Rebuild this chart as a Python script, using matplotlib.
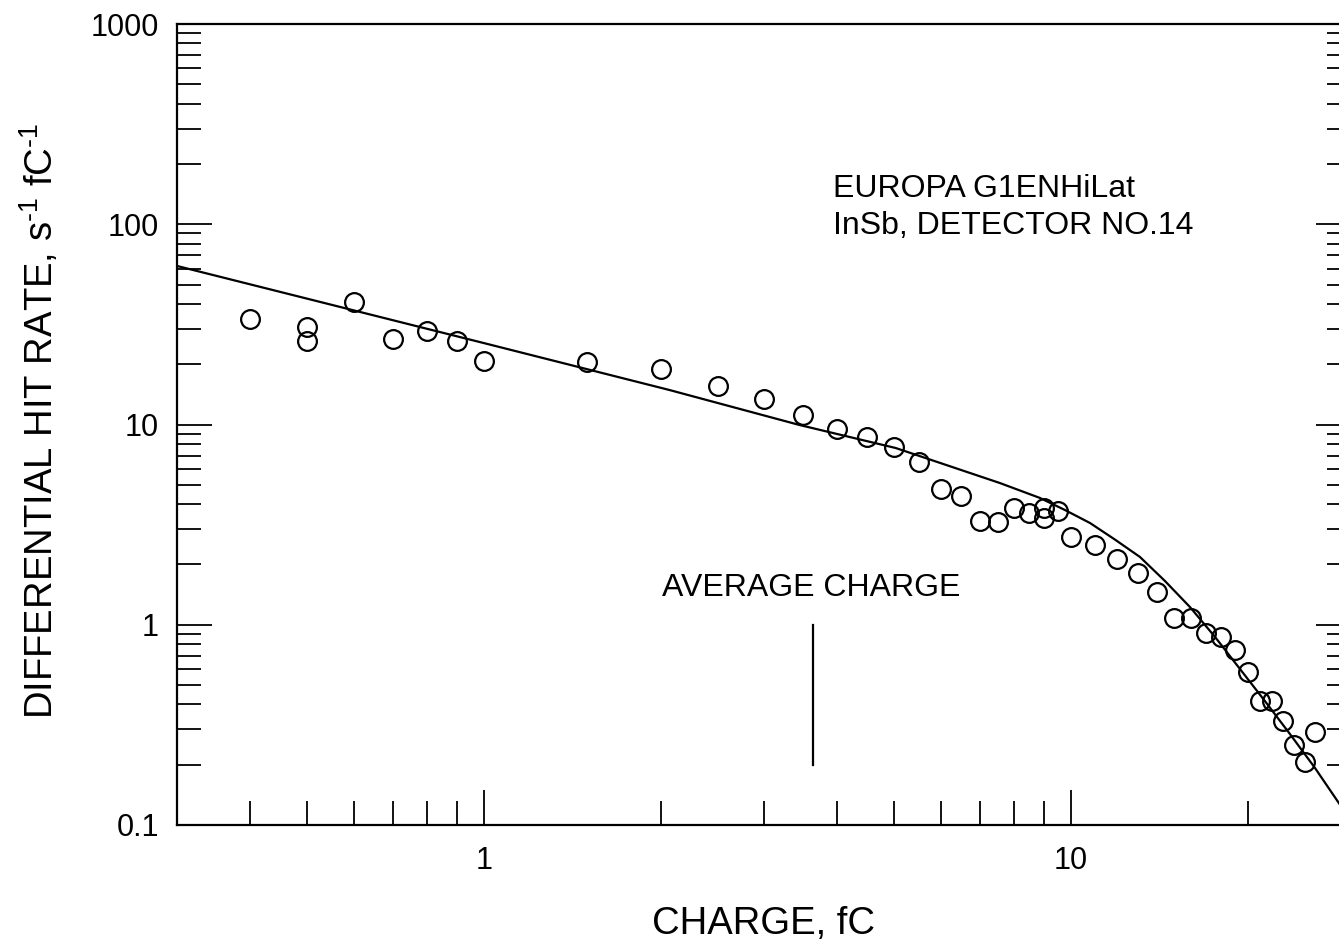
import matplotlib
matplotlib.use("Agg")
import matplotlib.pyplot as plt
from matplotlib.ticker import LogLocator, NullFormatter

plt.rcParams["font.family"] = ["Liberation Sans", "DejaVu Sans"]
plt.rcParams["mathtext.fontset"] = "custom"
plt.rcParams["mathtext.rm"] = "Liberation Sans"

# measured differential hit rate, s^-1 fC^-1, against deposited charge, fC
charge = [0.4, 0.5, 0.5, 0.6, 0.7, 0.8, 0.9, 1.0, 1.5, 2.0, 2.5, 3.0,
          3.5, 4.0, 4.5, 5.0, 5.5, 6.0, 6.5, 7.0, 7.5, 8.0, 8.5, 9.0,
          9.0, 9.5, 10.0, 11.0, 12.0, 13.0, 14.0, 15.0, 16.0, 17.0, 18.0,
          19.0, 20.0, 21.0, 22.0, 23.0, 24.0, 25.0, 26.0]
rate = [33.6, 30.8, 26.1, 40.9, 26.6, 29.4, 26.2, 20.8, 20.6, 18.9, 15.6, 13.4,
        11.2, 9.46, 8.63, 7.75, 6.52, 4.76, 4.41, 3.31, 3.25, 3.82, 3.60, 3.84,
        3.40, 3.70, 2.73, 2.50, 2.12, 1.82, 1.45, 1.08, 1.08, 0.906, 0.87,
        0.75, 0.58, 0.416, 0.416, 0.332, 0.251, 0.206, 0.29]

# model curve
fit_charge = [0.3, 1.0, 2.07, 3.45, 5.03, 7.57, 8.85, 9.77, 10.78, 11.88,
              13.11, 14.46, 15.95, 17.60, 19.41, 21.40, 23.61, 26.05, 28.6,
              30.0]
fit_rate = [61.9, 25.5, 14.87, 9.94, 7.63, 5.10, 4.30, 3.74, 3.22, 2.665,
            2.18, 1.654, 1.226, 0.869, 0.601, 0.416, 0.2847, 0.1926, 0.1288,
            0.1054]

avg_charge = 3.64
avg_bar = [0.2, 1.0]

fig = plt.figure(figsize=(13.39, 9.47), dpi=100)
ax = fig.add_axes([177 / 1339, 1 - 825 / 947, 1174 / 1339, 801 / 947])
ax.set_xscale("log")
ax.set_yscale("log")
ax.set_xlim(0.3, 30)
ax.set_ylim(0.1, 1000)

ax.plot(fit_charge, fit_rate, color="black", lw=1.6)
ax.plot(charge, rate, "o", mfc="none", mec="black", ms=13.5, mew=1.6)
ax.plot([avg_charge, avg_charge], avg_bar, color="black", lw=1.6)

ax.set_xticks([1, 10], ["1", "10"])
ax.set_yticks([0.1, 1, 10, 100, 1000], ["0.1", "1", "10", "100", "1000"])
ax.xaxis.set_minor_locator(LogLocator(base=10, subs=range(2, 10)))
ax.yaxis.set_minor_locator(LogLocator(base=10, subs=range(2, 10)))
ax.xaxis.set_minor_formatter(NullFormatter())
ax.yaxis.set_minor_formatter(NullFormatter())

ax.tick_params(axis="x", which="both", direction="in", top=False,
               labelsize=22, pad=15, width=1.3)
ax.tick_params(axis="y", which="both", direction="in", left=True, right=True,
               labelsize=22, pad=13, width=1.3)
ax.tick_params(which="major", length=25)
ax.tick_params(which="minor", length=17)
for s in ax.spines.values():
    s.set_linewidth(1.6)

fig.text(662 / 1339, 1 - 596 / 947, "AVERAGE CHARGE", fontsize=23,
         va="baseline", ha="left")
fig.text(833 / 1339, 1 - 197 / 947, "EUROPA G1ENHiLat", fontsize=23,
         va="baseline", ha="left")
fig.text(833 / 1339, 1 - 234 / 947, "InSb, DETECTOR NO.14", fontsize=23,
         va="baseline", ha="left")

fig.text(763 / 1339, 1 - 924 / 947, "CHARGE, fC", fontsize=27.5,
         ha="center", va="center")
fig.text(40 / 1339, 1 - 421 / 947,
         r"DIFFERENTIAL HIT RATE, s$^{\text{-1}}$ fC$^{\text{-1}}$",
         fontsize=27.5, rotation=90, ha="center", va="center")

fig.savefig("out.png", dpi=100)
